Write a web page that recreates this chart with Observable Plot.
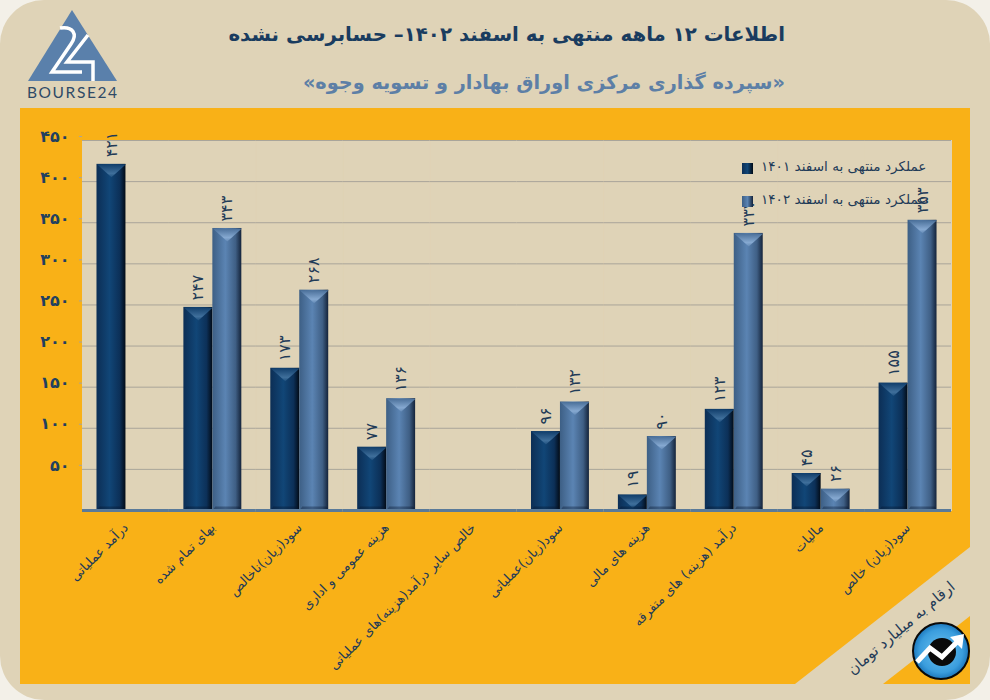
<!DOCTYPE html>
<html lang="fa">
<head>
<meta charset="utf-8">
<script src="https://cdn.jsdelivr.net/npm/d3@7"></script>
<script src="https://cdn.jsdelivr.net/npm/@observablehq/plot@0.6"></script>
<style>
html,body{margin:0;padding:0;background:#f3f0e8;}
#page{position:relative;width:990px;height:700px;overflow:hidden;background:#f3f0e8;font-family:"DejaVu Sans",sans-serif;}
#card{position:absolute;left:0;top:0;width:990px;height:700px;border-radius:44px;background:#dfd3b7;}
#panelMain,#panelCorner{position:absolute;left:20px;top:108px;width:950px;height:576px;background:#f9b117;}
#panelMain{clip-path:polygon(0 0,100% 0,100% 439px,775px 100%,0 100%);}
#panelCorner{clip-path:polygon(100% 508px,100% 100%,863px 100%);}
#title,#subtitle{position:absolute;right:205px;white-space:nowrap;direction:rtl;font-weight:bold;}
#title{top:23px;font-size:19.8px;color:#1a3c5f;}
#subtitle{top:71px;font-size:19.3px;color:#5d7fa6;}
#chart{position:absolute;left:20px;top:108px;}
#legend{position:absolute;left:742px;top:158px;color:#1f3b57;font-size:13.6px;direction:rtl;}
.lg{position:absolute;white-space:nowrap;left:19px;}
.sw{position:absolute;left:0;width:11px;height:11px;}
#note{position:absolute;left:901px;top:628px;transform:translate(-50%,-50%) rotate(-40deg);white-space:nowrap;font-size:15px;color:#1f3b57;direction:rtl;}
#logo{position:absolute;left:25px;top:8px;}
#badge{position:absolute;left:911px;top:621px;}
</style>
</head>
<body>
<div id="page">
  <div id="card"></div>
  <svg id="logo" width="96" height="92" viewBox="0 0 96 92">
    <polygon points="47,2 92,73 3,73" fill="#5a80ab"/>
    <path d="M35 20 C48 18 53 26 46 36 L27 64 L57 64" fill="none" stroke="#fff" stroke-width="3.5"/>
    <path d="M63 27 L42 54 L68 54 L68 73" fill="none" stroke="#fff" stroke-width="3.5"/>
    <text x="2" y="90" textLength="90" font-size="15.5" fill="#2f4a66" font-family="Lato,sans-serif">BOURSE24</text>
  </svg>
  <div id="title"></div>
  <div id="subtitle"></div>
  <div id="panelMain"></div>
  <div id="panelCorner"></div>
  <div id="chart"></div>
  <div id="legend"></div>
  <div id="note"></div>
  <svg id="badge" width="60" height="60" viewBox="0 0 60 60">
    <defs><radialGradient id="bg" cx="50%" cy="50%" r="55%"><stop offset="0" stop-color="#6cc3f0"/><stop offset="0.7" stop-color="#3a9ddd"/><stop offset="1" stop-color="#0f66ad"/></radialGradient></defs>
    <circle cx="30" cy="30" r="28" fill="url(#bg)" stroke="#0a0a0a" stroke-width="2"/>
    <circle cx="31" cy="31" r="14" fill="#0a0a0a"/>
    <path d="M6 41 L19 27 L31 36 L46 21" fill="none" stroke="#fff" stroke-width="5"/>
    <path d="M39 16 L53 13 L51 28 Z" fill="#fff"/>
  </svg>
</div>
<script>
const titleText = "اطلاعات ۱۲ ماهه منتهی به اسفند ۱۴۰۲– حسابرسی نشده";
const subtitleText = "«سپرده گذاری مرکزی اوراق بهادار و تسویه وجوه»";
const noteText = "ارقام به میلیارد تومان";
const categories = [
  "درآمد عملیاتی",
  "بهای تمام شده",
  "سود(زیان)ناخالص",
  "هزینه عمومی و اداری",
  "خالص سایر درآمد(هزینه)های عملیاتی",
  "سود(زیان)عملیاتی",
  "هزینه های مالی",
  "درآمد (هزینه) های متفرقه",
  "مالیات",
  "سود(زیان) خالص"
];
const seriesNames = ["عملکرد منتهی به اسفند ۱۴۰۱", "عملکرد منتهی به اسفند ۱۴۰۲"];
const values1401 = [421, 247, 173, 77, null, 96, 19, 123, 45, 155];
const values1402 = [null, 343, 268, 136, null, 132, 90, 337, 26, 353];
const yTicks = [50, 100, 150, 200, 250, 300, 350, 400, 450];

const fa = n => String(n).replace(/\d/g, d => "۰۱۲۳۴۵۶۷۸۹"[d]);

document.getElementById("title").textContent = titleText;
document.getElementById("subtitle").textContent = subtitleText;
document.getElementById("note").textContent = noteText;

// Null rows are kept so that the category without values still gets its facet.
const rows = [
  ...categories.map((c, i) => ({category: c, series: "a", value: values1401[i]})),
  ...categories.map((c, i) => ({category: c, series: "b", value: values1402[i]}))
];
const present = rows.filter(d => d.value != null);

const bevel = {draw(c) { c.moveTo(-14.5, 0); c.lineTo(14.5, 0); c.lineTo(0, 13); c.closePath(); }};
const foot = {draw(c) { c.moveTo(-14.5, 0); c.lineTo(14.5, 0); c.lineTo(12, -4); c.lineTo(-12, -4); c.closePath(); }};

const seriesMarks = (key, body, top) => {
  const data = present.filter(d => d.series === key);
  return [
    Plot.barY(data, {fx: "category", x: "series", y: "value", fill: `url(#${body})`}),
    Plot.dot(data, {fx: "category", x: "series", y: "value", symbol: bevel, r: 6, fill: `url(#${top})`, stroke: "none"}),
    Plot.dot(data, {fx: "category", x: "series", y: () => 0, symbol: foot, r: 6, fill: "#06142a", fillOpacity: 0.35, stroke: "none"})
  ];
};

const chart = Plot.plot({
  width: 950,
  height: 576,
  marginLeft: 62,
  marginRight: 19,
  marginTop: 32,
  marginBottom: 174,
  style: {background: "transparent", overflow: "visible", fontFamily: "'DejaVu Sans',sans-serif"},
  fx: {domain: categories, padding: 0, round: false, label: null},
  x: {domain: ["a", "b"], paddingInner: 0, paddingOuter: 0.5, round: false, axis: null},
  y: {domain: [0, 450], label: null},
  marks: [
    Plot.frame({fill: "#dfd3b7", stroke: "#dfd3b7", strokeWidth: 1}),
    Plot.tickY(rows, {fx: "category", y: "value", strokeOpacity: 0}),
    Plot.gridY(yTicks, {stroke: "#a9a59a", strokeOpacity: 1, strokeWidth: 1}),
    Plot.axisY(yTicks, {tickFormat: fa, fontSize: 16, fontWeight: "bold", tickSize: 3, stroke: "#a9a59a", fill: "#22405f", tickPadding: 10, dy: -4, label: null}),
    ...seriesMarks("a", "barA", "capA"),
    ...seriesMarks("b", "barB", "capB"),
    Plot.text(present, {fx: "category", x: "series", y: "value", text: d => fa(d.value), rotate: -90, textAnchor: "start", dy: -7, fontSize: 16, fill: "#1f3b57"}),
    Plot.ruleY([0], {stroke: "#5a7a99", strokeWidth: 3}),
    Plot.axisFx({anchor: "bottom", tickRotate: -45, tickSize: 0, tickPadding: 15, fontSize: 13, fill: "#1f3b57", label: null, lineWidth: 100})
  ]
});

d3.select(chart).insert("defs", ":first-child").html(`
  <linearGradient id="barA" x1="0" x2="1" y1="0" y2="0">
    <stop offset="0" stop-color="#0c2e55"/><stop offset="0.45" stop-color="#114677"/><stop offset="0.8" stop-color="#0c3058"/><stop offset="1" stop-color="#020b16"/>
  </linearGradient>
  <linearGradient id="barB" x1="0" x2="1" y1="0" y2="0">
    <stop offset="0" stop-color="#3d5f85"/><stop offset="0.45" stop-color="#5b84b3"/><stop offset="0.8" stop-color="#3f5f85"/><stop offset="1" stop-color="#14233a"/>
  </linearGradient>
  <linearGradient id="capA" x1="0" x2="0" y1="0" y2="1">
    <stop offset="0" stop-color="#123f6c"/><stop offset="0.7" stop-color="#3f6f9b"/><stop offset="1" stop-color="#3f6f9b" stop-opacity="0.3"/>
  </linearGradient>
  <linearGradient id="capB" x1="0" x2="0" y1="0" y2="1">
    <stop offset="0" stop-color="#4a6f99"/><stop offset="0.7" stop-color="#86a9d1"/><stop offset="1" stop-color="#86a9d1" stop-opacity="0.3"/>
  </linearGradient>`);
document.getElementById("chart").append(chart);

const legend = d3.select("#legend");
const swatches = ["linear-gradient(90deg,#0c2e55,#114677 50%,#020b16)", "linear-gradient(90deg,#3d5f85,#5b84b3 50%,#14233a)"];
seriesNames.forEach((name, i) => {
  const top = i * 33;
  legend.append("div").attr("class", "sw").style("top", `${top + 5}px`).style("background", swatches[i]);
  legend.append("div").attr("class", "lg").style("top", `${top}px`).text(name);
});
</script>
</body>
</html>
